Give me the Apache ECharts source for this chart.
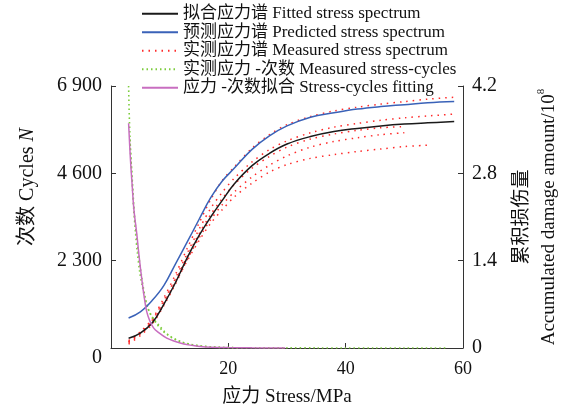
<!DOCTYPE html>
<html>
<head>
<meta charset="utf-8">
<script src="https://cdn.jsdelivr.net/npm/echarts@6/dist/echarts.min.js"></script>
<style>html,body{margin:0;padding:0;background:#fff}#c{width:565px;height:407px}</style>
</head>
<body>
<div id="c"></div>
<script>
// ---- data ----
var stress = [3, 5, 7, 9, 11, 13, 15, 17, 19, 21, 24, 27, 30, 34, 38, 42, 46, 50, 54, 58.5];
var fittedDamage    = [0.155, 0.24, 0.4, 0.7, 1.05, 1.45, 1.8, 2.1, 2.37, 2.63, 2.92, 3.12, 3.27, 3.39, 3.47, 3.52, 3.56, 3.59, 3.61, 3.63];
var predictedDamage = [0.48, 0.58, 0.76, 1.0, 1.35, 1.7, 2.06, 2.41, 2.68, 2.88, 3.18, 3.4, 3.56, 3.7, 3.77, 3.83, 3.87, 3.9, 3.93, 3.95];
var measured1 = [0.1, 0.26, 0.46, 0.8, 1.18, 1.6, 2.0, 2.38, 2.69, 2.9, 3.2, 3.42, 3.58, 3.71, 3.8, 3.86, 3.91, 3.95, 3.99, 4.02];
var measured2 = [0.08, 0.22, 0.44, 0.76, 1.12, 1.52, 1.9, 2.24, 2.5, 2.72, 2.98, 3.18, 3.32, 3.45, 3.54, 3.6, 3.65, 3.69, 3.72, 3.75];
var measured3 = [0.12, 0.25, 0.42, 0.72, 1.08, 1.47, 1.83, 2.14, 2.4, 2.62, 2.88, 3.07, 3.22, 3.35, 3.43, 3.49, 3.53, 3.55, null, null];
var measured4 = [0.06, 0.2, 0.38, 0.68, 1.03, 1.42, 1.76, 2.06, 2.3, 2.5, 2.74, 2.93, 3.08, 3.22, 3.31, 3.37, 3.42, 3.45, null, null];
var measured5 = [0.1, 0.23, 0.4, 0.7, 1.05, 1.4, 1.72, 2.0, 2.22, 2.42, 2.64, 2.82, 2.94, 3.04, 3.1, 3.15, 3.19, 3.23, 3.25, null];

var fitStress = [3.0, 3.3, 3.6, 3.9, 4.4, 4.8, 5.3, 5.7, 6.1, 6.6, 7.25, 8, 9.5, 11, 12.4, 14, 15.2, 17, 20, 24, 29.7];
var fitCycles = [5920, 5000, 4300, 3650, 3000, 2400, 1750, 1300, 950, 720, 530, 420, 260, 170, 105, 65, 40, 22, 10, 4, 1];

var measStress = [3.0, 3.1, 3.3, 3.5, 3.7, 3.9, 4.2, 4.5, 4.9, 5.3, 5.8, 6.3, 6.8, 7.4, 8, 8.8, 9.6, 10.5, 11.5, 12.5, 14, 16, 18, 20, 25, 30, 35, 40, 45, 50, 57];
var measCycles = [6900, 6200, 5300, 4700, 4100, 3600, 3000, 2500, 2000, 1650, 1300, 1050, 880, 730, 590, 450, 350, 260, 190, 130, 80, 40, 20, 10, 5, 3, 2, 1, 1, 0, 0];
var measStress2 = [3.2, 3.6, 4.0, 4.6, 5.2, 5.8, 6.4, 7.0, 7.6, 8.4, 9.2, 10, 11, 12, 13.5, 15, 17, 19, 22];
var measCycles2 = [5500, 4500, 3500, 2600, 1900, 1350, 1000, 820, 700, 560, 420, 320, 230, 160, 100, 60, 30, 15, 6];

var xTicks = [0, 20, 40, 60];
var leftTicks = [0, 2300, 4600, 6900];
var rightTicks = [0, 1.4, 2.8, 4.2];

var names = {
  fit: '拟合应力谱 Fitted stress spectrum',
  pred: '预测应力谱 Predicted stress spectrum',
  meas: '实测应力谱 Measured stress spectrum',
  sc: '实测应力 -次数 Measured stress-cycles',
  scfit: '应力 -次数拟合 Stress-cycles fitting'
};

function pairs(xs, ys) {
  var out = [];
  for (var i = 0; i < xs.length; i++) if (ys[i] != null) out.push([xs[i], ys[i]]);
  return out;
}

var FONT = '"Liberation Serif", "Times New Roman", "Noto Sans CJK SC", serif';
var AX = '#333';

var redStyle = { color: '#ff2a2a', width: 1.5, type: [1.5, 5] };
var greenStyle = { color: '#7ccc3c', width: 1.6, type: [1.5, 3] };

var series = [];
[measured1, measured2, measured3, measured4, measured5].forEach(function (m) {
  series.push({ name: names.meas, type: 'line', yAxisIndex: 1, smooth: 0.3, symbol: 'none',
    lineStyle: redStyle, itemStyle: { color: '#ff2a2a' }, data: pairs(stress, m), z: 2 });
});
series.push({ name: names.sc, type: 'line', yAxisIndex: 0, smooth: 0.3, symbol: 'none',
  lineStyle: greenStyle, itemStyle: { color: '#7ccc3c' }, data: pairs(measStress, measCycles), z: 2 });
series.push({ name: names.sc, type: 'line', yAxisIndex: 0, smooth: 0.3, symbol: 'none',
  lineStyle: greenStyle, itemStyle: { color: '#7ccc3c' }, data: pairs(measStress2, measCycles2), z: 2 });
series.push({ name: names.fit, type: 'line', yAxisIndex: 1, smooth: 0.4, symbol: 'none',
  lineStyle: { color: '#1a1a1a', width: 1.5 }, itemStyle: { color: '#1a1a1a' }, data: pairs(stress, fittedDamage), z: 4 });
series.push({ name: names.pred, type: 'line', yAxisIndex: 1, smooth: 0.4, symbol: 'none',
  lineStyle: { color: '#3a62b8', width: 1.5 }, itemStyle: { color: '#3a62b8' }, data: pairs(stress, predictedDamage), z: 4 });
series.push({ name: names.scfit, type: 'line', yAxisIndex: 0, smooth: 0.4, symbol: 'none',
  lineStyle: { color: '#c86ec0', width: 1.5 }, itemStyle: { color: '#c86ec0' }, data: pairs(fitStress, fitCycles), z: 4 });

var chart = echarts.init(document.getElementById('c'), null, { renderer: 'canvas' });
chart.setOption({
  animation: false,
  backgroundColor: '#fff',
  textStyle: { fontFamily: FONT },
  legend: {
    orient: 'vertical', left: 136, top: 0, itemWidth: 36, itemHeight: 10, itemGap: 1,
    data: [names.fit, names.pred, names.meas, names.sc, names.scfit],
    itemStyle: { opacity: 0 },
    textStyle: { fontFamily: FONT, fontSize: 17, color: '#111', lineHeight: 17.5 },
    selectedMode: false
  },
  grid: { left: 111, right: 102, top: 86, bottom: 59, containLabel: false, outerBoundsMode: 'none' },
  xAxis: {
    type: 'value', min: xTicks[0], max: xTicks[xTicks.length - 1], interval: 20,
    name: '应力 Stress/MPa', nameLocation: 'middle', nameGap: 40,
    nameTextStyle: { fontFamily: FONT, fontSize: 19, color: '#111' },
    axisLine: { lineStyle: { color: AX, width: 1 } },
    axisTick: { inside: true, length: 5, lineStyle: { color: AX } },
    splitLine: { show: false },
    axisLabel: { fontFamily: FONT, fontSize: 18, color: '#111', margin: 12, showMinLabel: false }
  },
  yAxis: [{
    type: 'value', position: 'left', min: leftTicks[0], max: leftTicks[leftTicks.length - 1], interval: 2300,
    name: '次数 Cycles {i|N}', nameLocation: 'middle', nameGap: 73, nameRotate: 90,
    nameTextStyle: { fontFamily: FONT, fontSize: 20, color: '#111', padding: [0, 0, 0, 60],
      rich: { i: { fontFamily: FONT, fontSize: 20, fontStyle: 'italic', color: '#111' } } },
    axisLine: { show: true, lineStyle: { color: AX, width: 1 } },
    axisTick: { show: true, inside: true, length: 5, lineStyle: { color: AX } },
    splitLine: { show: false },
    axisLabel: { fontFamily: FONT, fontSize: 20, color: '#111', margin: 9,
      formatter: function (v) {
        if (v === 0) return '{z|0}';
        var s = String(Math.round(v));
        return s.slice(0, s.length - 3) + ' ' + s.slice(s.length - 3);
      },
      rich: { z: { fontFamily: FONT, fontSize: 20, color: '#111', padding: [20, 0, 0, 0] } } }
  }, {
    type: 'value', position: 'right', min: rightTicks[0], max: rightTicks[rightTicks.length - 1], interval: 1.4,
    name: '累积损伤量\nAccumulated damage amount/10{s|8}', nameLocation: 'middle', nameGap: 46, nameRotate: 90,
    nameTextStyle: { fontFamily: FONT, fontSize: 19, color: '#111', lineHeight: 27,
      rich: { s: { fontFamily: FONT, fontSize: 11, color: '#111', verticalAlign: 'top', lineHeight: 27, padding: [0, 0, 10, 0] } } },
    axisLine: { show: true, lineStyle: { color: AX, width: 1 } },
    axisTick: { show: true, inside: true, length: 5, lineStyle: { color: AX } },
    splitLine: { show: false },
    axisLabel: { fontFamily: FONT, fontSize: 20, color: '#111', margin: 9,
      formatter: function (v) { return v === 0 ? '0' : v.toFixed(1); } }
  }],
  series: series
});
</script>
</body>
</html>
